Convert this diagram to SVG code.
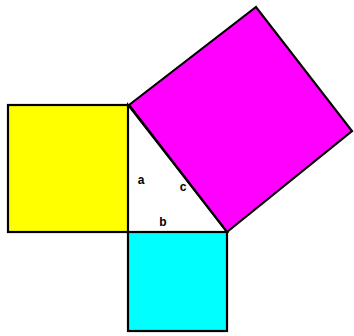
<svg xmlns="http://www.w3.org/2000/svg" width="354" height="336" viewBox="0 0 354 336">
<style>
.sq{stroke:#000;stroke-width:2.2;stroke-linejoin:miter}
.lbl{font-family:"Liberation Sans",Arial,sans-serif;font-weight:bold;font-size:12px;fill:#000;text-anchor:middle}
</style>
<rect width="354" height="336" fill="#fff"/>
<g id="square-a"><rect class="sq" x="8" y="105" width="120" height="127" fill="#ffff00"/></g>
<g id="square-b"><rect class="sq" x="128" y="232" width="99" height="99" fill="#00ffff"/></g>
<g id="square-c"><polygon class="sq" points="129,105 256,7 352,131 227,232" fill="#ff00ff"/></g>
<g id="triangle"><polygon points="128,105 128,232 227,232" fill="none" stroke="#000" stroke-width="2"/></g>
<g id="labels">
<text class="lbl" x="141" y="184">a</text>
<text class="lbl" x="183" y="191">c</text>
<text class="lbl" x="163" y="226">b</text>
</g>
</svg>
